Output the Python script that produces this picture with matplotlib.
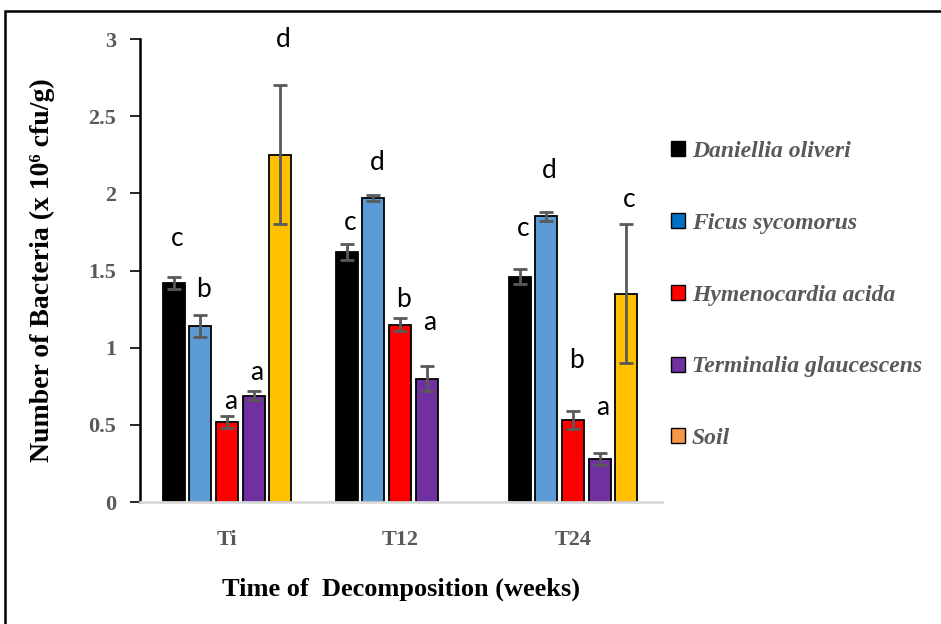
import numpy as np
import matplotlib
matplotlib.use("Agg")
import matplotlib.pyplot as plt
from matplotlib.patches import Patch, Rectangle

categories = ["Ti", "T12", "T24"]
species = ["Daniellia oliveri", "Ficus sycomorus", "Hymenocardia acida",
           "Terminalia glaucescens", "Soil"]
bar_colors = ["#000000", "#5B9BD5", "#FF0000", "#7030A0", "#FFC000"]
legend_colors = ["#000000", "#0070C0", "#FF0000", "#7030A0", "#F79646"]

# values per species across Ti, T12, T24
values = {
    "Daniellia oliveri":      [1.42, 1.62, 1.46],
    "Ficus sycomorus":        [1.14, 1.97, 1.85],
    "Hymenocardia acida":     [0.52, 1.15, 0.53],
    "Terminalia glaucescens": [0.69, 0.80, 0.28],
    "Soil":                   [2.25, np.nan, 1.35],
}
errors = {
    "Daniellia oliveri":      [0.04, 0.05, 0.05],
    "Ficus sycomorus":        [0.07, 0.02, 0.03],
    "Hymenocardia acida":     [0.04, 0.04, 0.06],
    "Terminalia glaucescens": [0.03, 0.08, 0.04],
    "Soil":                   [0.45, np.nan, 0.45],
}
letters = {
    "Daniellia oliveri":      ["c", "c", "c"],
    "Ficus sycomorus":        ["b", "d", "d"],
    "Hymenocardia acida":     ["a", "b", "b"],
    "Terminalia glaucescens": ["a", "a", "a"],
    "Soil":                   ["d", "", "c"],
}
letter_y = {
    "Daniellia oliveri":      [1.71, 1.81, 1.77],
    "Ficus sycomorus":        [1.38, 2.20, 2.15],
    "Hymenocardia acida":     [0.65, 1.31, 0.92],
    "Terminalia glaucescens": [0.84, 1.16, 0.61],
    "Soil":                   [3.00, np.nan, 1.96],
}
yticks = [0, 0.5, 1, 1.5, 2, 2.5, 3]
ytick_labels = ["0", "0.5", "1", "1.5", "2", "2.5", "3"]

serif = ["Liberation Serif", "DejaVu Serif"]
gray = "#595959"

fig = plt.figure(figsize=(9.41, 6.24), dpi=100)
ax = fig.add_axes([0.1488, 0.1955, 0.7035 - 0.1488, 0.9375 - 0.1955])

x = np.arange(len(categories))
step = 0.154
width = 0.127
for j, sp in enumerate(species):
    xs = x + (j - 2) * step
    v = np.array(values[sp], dtype=float)
    e = np.array(errors[sp], dtype=float)
    ax.bar(xs, v, width=width, color=bar_colors[j], edgecolor="black",
           linewidth=1.3, zorder=2)
    ax.errorbar(xs, v, yerr=e, fmt="none", ecolor=gray, elinewidth=2,
                capsize=5, capthick=2, zorder=3)
    for k in range(len(categories)):
        if letters[sp][k]:
            ax.text(xs[k] + 0.02, letter_y[sp][k], letters[sp][k],
                    ha="center", va="center", fontsize=19,
                    family=["Lato", "DejaVu Sans"], color="black")

ax.set_xlim(-0.503, 2.515)
ax.set_ylim(0, 3)
ax.set_yticks(yticks)
ax.set_yticklabels(ytick_labels)
ax.set_xticks(x)
ax.set_xticklabels(categories)
for lab in ax.get_yticklabels() + ax.get_xticklabels():
    lab.set_family(serif)
    lab.set_fontweight("bold")
    lab.set_color(gray)
    lab.set_fontsize(16)
ax.tick_params(axis="y", direction="out", length=7, width=1.2, colors="black",
               pad=10, labelcolor=gray)
ax.tick_params(axis="x", length=0, pad=20, labelcolor=gray)
for s in ["top", "right"]:
    ax.spines[s].set_visible(False)
ax.spines["left"].set_color("black")
ax.spines["left"].set_linewidth(1.8)
ax.spines["bottom"].set_color("#D9D9D9")
ax.spines["bottom"].set_linewidth(2)

ax.set_ylabel("Number of Bacteria (x 10\u2076 cfu/g)", family=serif,
              fontweight="bold", fontsize=20, color="black", labelpad=24)
ax.set_xlabel("Time of  Decomposition (weeks)", family=serif,
              fontweight="bold", fontsize=19, color="black", labelpad=20)

handles = [Patch(facecolor=legend_colors[j], edgecolor="black", linewidth=1)
           for j in range(len(species))]
leg = fig.legend(handles, species, loc="upper left",
                 bbox_to_anchor=(0.69, 0.808), frameon=False,
                 prop={"family": serif, "style": "italic", "weight": "bold",
                       "size": 17},
                 labelspacing=2.15, handlelength=0.6, handleheight=0.6,
                 handletextpad=0.3)
for t in leg.get_texts():
    t.set_color(gray)

fig.patches.append(Rectangle((0.0053, -0.2), 1.5, 0.2 + 0.982, fill=False,
                             edgecolor="black", linewidth=1.8,
                             transform=fig.transFigure, figure=fig))

fig.savefig("out.png", dpi=100)
